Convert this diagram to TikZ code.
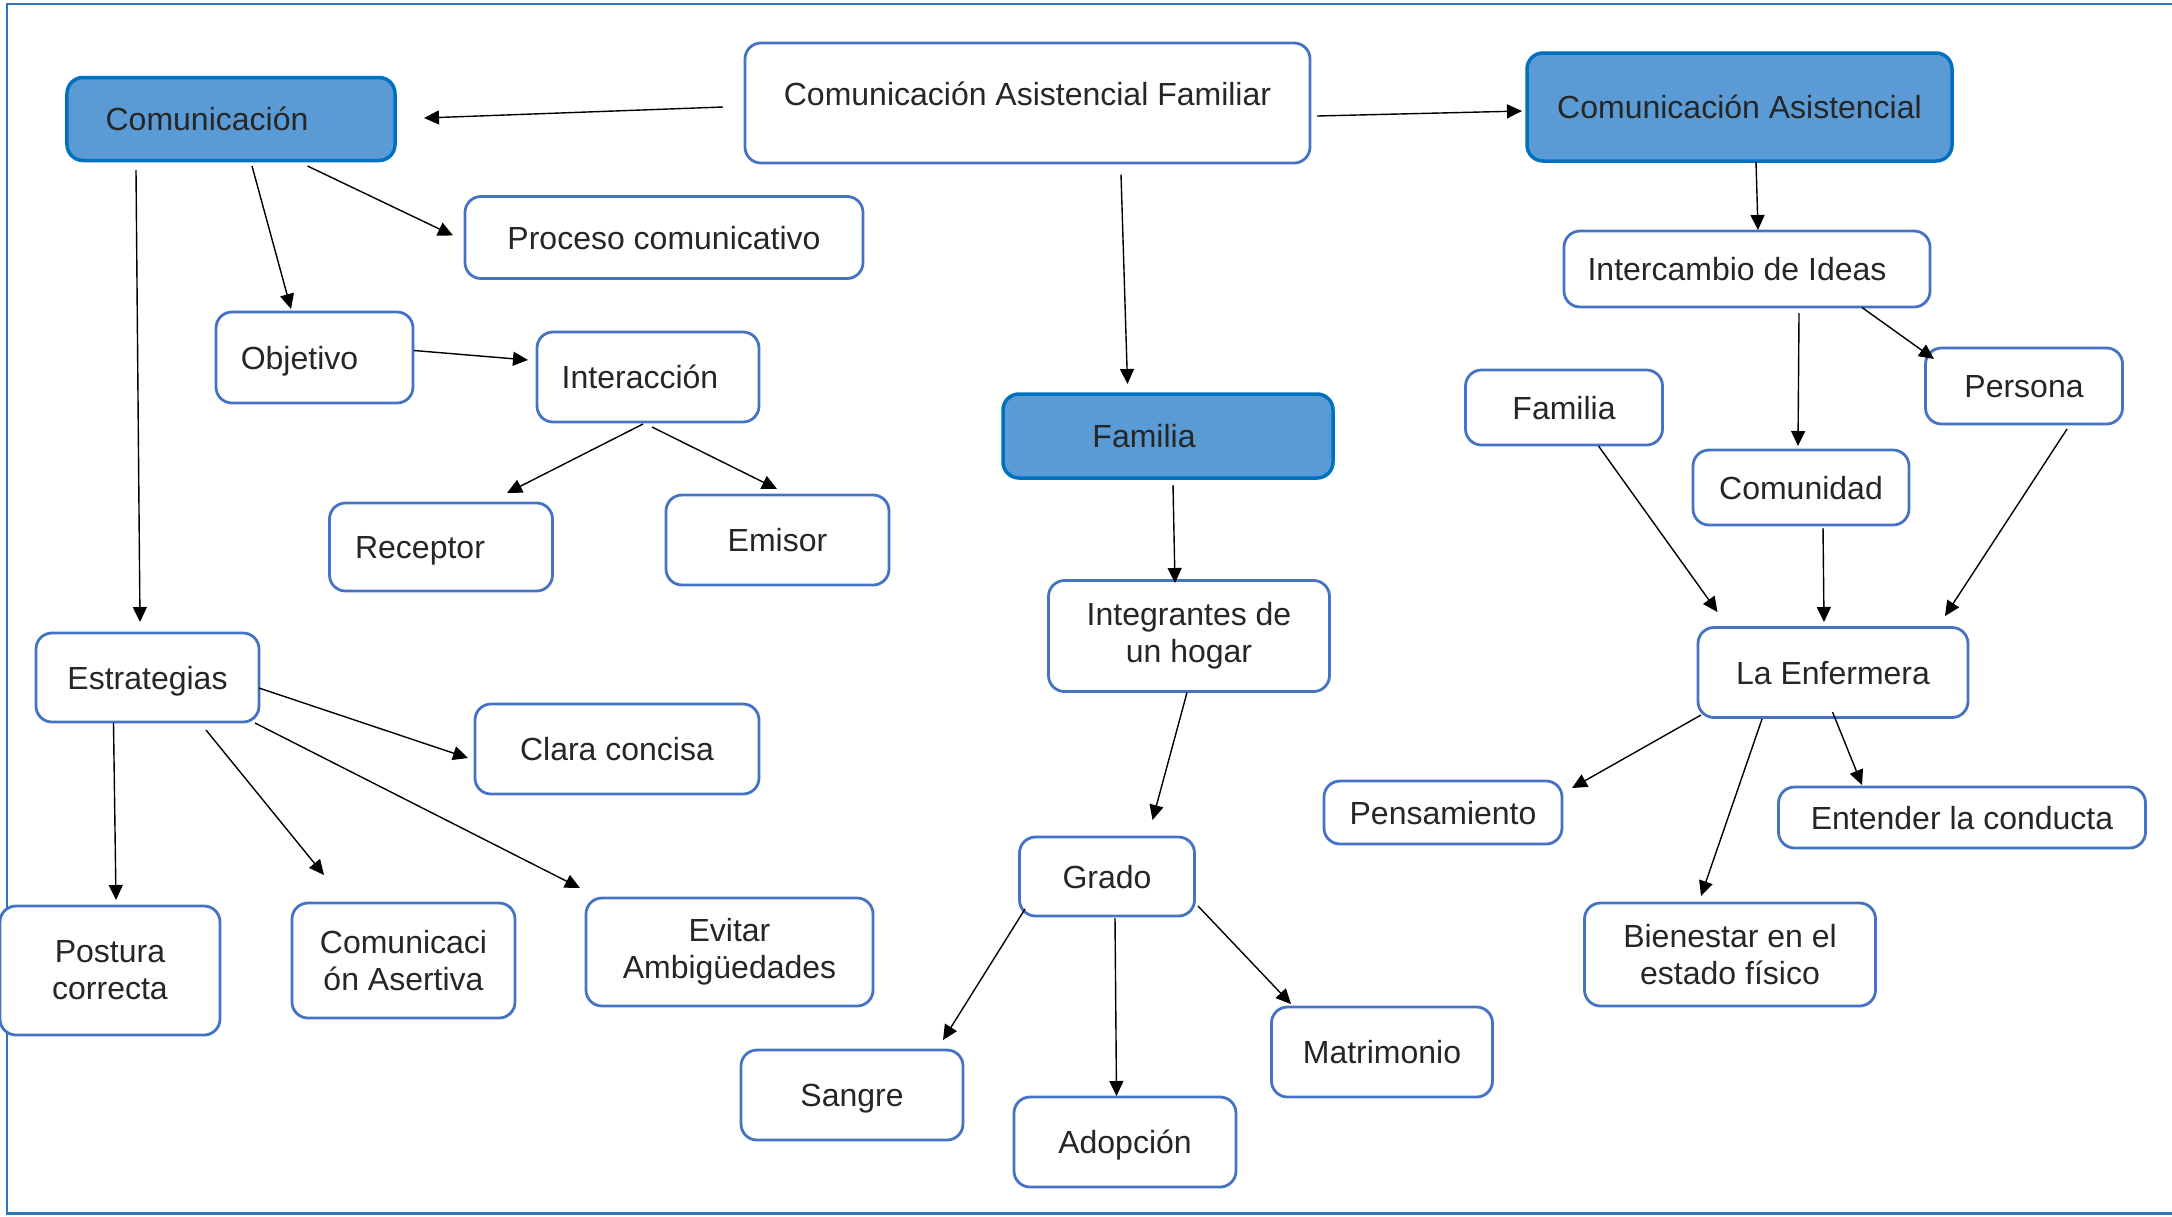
\documentclass[tikz,border=0pt]{standalone}
\usepackage{fontspec}
\setmainfont{Liberation Sans}
\usetikzlibrary{arrows.meta}
\definecolor{boxblue}{HTML}{4472C4}
\definecolor{fillblue}{HTML}{5B9BD5}
\definecolor{darkblue}{HTML}{0070C0}
\definecolor{frameblue}{HTML}{2E75B6}
\definecolor{txt}{HTML}{262626}
\newcommand{\padr}[1]{\rule{#1}{0pt}}
\begin{document}
\begin{tikzpicture}[x=1bp,y=-1bp,
  box/.style={draw=boxblue, line width=2.8bp, rounded corners=16bp, fill=white, text=txt, inner sep=0pt, font=\fontsize{32bp}{37bp}\selectfont},
  one/.style={text height=23bp, text depth=0bp},
  fbox/.style={box, draw=darkblue, fill=fillblue, line width=3.5bp},
  arr/.style={-{Triangle[length=15bp,width=14bp]}, line width=1.4bp, black},
  sz/.style 2 args={minimum width=#1bp, minimum height=#2bp}
]
\useasboundingbox (0,0) rectangle (2172,1216);
\draw[frameblue, line width=2.5bp] (2172,4) -- (7,4) -- (7,1213.5) -- (2172,1213.5);

\node[fbox, sz={328}{83}, one] (com) at (231,119) {Comunicación\padr{48bp}};
\node[box, sz={565}{120}, text height=23bp, text depth=18bp] (caf) at (1027.5,103) {Comunicación Asistencial Familiar};
\node[fbox, sz={425}{108}, one] (cas) at (1739.5,107) {Comunicación Asistencial\padr{0bp}};
\node[box, sz={398}{82}, one] (proc) at (664,237.5) {Proceso comunicativo};
\node[box, sz={197}{91}, one] (obj) at (314.5,357.5) {Objetivo\padr{30bp}};
\node[box, sz={222}{90}, one] (inter) at (648,377) {Interacción\padr{16bp}};
\node[box, sz={223}{88}, one] (rec) at (441,547) {Receptor\padr{42bp}};
\node[box, sz={223}{90}, one] (emi) at (777.5,540) {Emisor};
\node[fbox, sz={330}{84}, one] (fam) at (1168,436) {Familia\padr{48bp}};
\node[box, sz={281}{111}, align=center] (integ) at (1189,636) {Integrantes de\\un hogar};
\node[box, sz={175}{79}, one] (grado) at (1107,876.5) {Grado};
\node[box, sz={222}{90}, one] (sang) at (852,1095) {Sangre};
\node[box, sz={222}{90}, one] (adop) at (1125,1142) {Adopción};
\node[box, sz={221}{90}, one] (matr) at (1382,1052) {Matrimonio};
\node[box, sz={223}{89}, one] (estr) at (147.5,677.5) {Estrategias};
\node[box, sz={284}{90}, one] (clara) at (617,749) {Clara concisa};
\node[box, sz={220}{129}, align=center] (post) at (110,970.5) {Postura\\correcta};
\node[box, sz={223}{115}, align=center] (aser) at (403.5,960.5) {Comunicaci\\ón Asertiva};
\node[box, sz={287}{108}, align=center] (evit) at (729.5,952) {Evitar\\Ambigüedades};
\node[box, sz={366}{76}, one] (idea) at (1747,269) {Intercambio de Ideas\padr{20bp}};
\node[box, sz={197}{75}, one] (famr) at (1564,407.5) {Familia};
\node[box, sz={197}{76}, one] (pers) at (2024,386) {Persona};
\node[box, sz={216}{75}, one] (comu) at (1801,487.5) {Comunidad};
\node[box, sz={270}{90}, one] (enf) at (1833,672.5) {La Enfermera};
\node[box, sz={238}{63}, one] (pens) at (1443,812.5) {Pensamiento};
\node[box, sz={367}{61}, one] (ent) at (1962,817.5) {Entender la conducta};
\node[box, sz={291}{103}, align=center] (bien) at (1730,954.5) {Bienestar en el\\estado físico};

\draw[arr] ([shift={(-304.5,4)}]caf.center) -- ([shift={(193,-1)}]com.center);
\draw[arr] ([shift={(289.5,13)}]caf.center) -- ([shift={(-217.5,4)}]cas.center);
\draw[arr] ([shift={(93.5,71.5)}]caf.center) -- ([shift={(-40.5,-52)}]fam.center);
\draw[arr] ([shift={(76.5,47)}]com.center) -- ([shift={(-211,-2)}]proc.center);
\draw[arr] ([shift={(21,47)}]com.center) -- ([shift={(-23.5,-48.5)}]obj.center);
\draw[arr] ([shift={(-95,51)}]com.center) -- ([shift={(-7.5,-55.5)}]estr.center);
\draw[arr] ([shift={(99.5,-7)}]obj.center) -- ([shift={(-120,-17)}]inter.center);
\draw[arr] ([shift={(-5,47)}]inter.center) -- ([shift={(66,-54)}]rec.center);
\draw[arr] ([shift={(4,50)}]inter.center) -- ([shift={(-0.5,-51)}]emi.center);
\draw[arr] ([shift={(5,49)}]fam.center) -- ([shift={(-14,-53)}]integ.center);
\draw[arr] ([shift={(-2,56.5)}]integ.center) -- ([shift={(45.5,-56.5)}]grado.center);
\draw[arr] ([shift={(-82,32.5)}]grado.center) -- ([shift={(91,-55)}]sang.center);
\draw[arr] ([shift={(8,41.5)}]grado.center) -- ([shift={(-8.5,-46)}]adop.center);
\draw[arr] ([shift={(91,29.5)}]grado.center) -- ([shift={(-91,-48)}]matr.center);
\draw[arr] ([shift={(111.5,10.5)}]estr.center) -- ([shift={(-149,9)}]clara.center);
\draw[arr] ([shift={(-34,45.5)}]estr.center) -- ([shift={(6,-70.5)}]post.center);
\draw[arr] ([shift={(58.5,52.5)}]estr.center) -- ([shift={(-79.5,-85.5)}]aser.center);
\draw[arr] ([shift={(107.5,45.5)}]estr.center) -- ([shift={(-149.5,-64)}]evit.center);
\draw[arr] ([shift={(16.5,55)}]cas.center) -- ([shift={(11,-39)}]idea.center);
\draw[arr] ([shift={(115,38.5)}]idea.center) -- ([shift={(-90,-27)}]pers.center);
\draw[arr] ([shift={(52,44)}]idea.center) -- ([shift={(-3,-41.5)}]comu.center);
\draw[arr] ([shift={(34.5,38.5)}]famr.center) -- ([shift={(-115.5,-60.5)}]enf.center);
\draw[arr] ([shift={(22,40.5)}]comu.center) -- ([shift={(-9,-50.5)}]enf.center);
\draw[arr] ([shift={(43,43)}]pers.center) -- ([shift={(112,-56.5)}]enf.center);
\draw[arr] ([shift={(-132,42.5)}]enf.center) -- ([shift={(129,-24.5)}]pens.center);
\draw[arr] ([shift={(-71,46.5)}]enf.center) -- ([shift={(-29,-58.5)}]bien.center);
\draw[arr] ([shift={(-0.5,39.5)}]enf.center) -- ([shift={(-100,-32.5)}]ent.center);
\end{tikzpicture}
\end{document}
